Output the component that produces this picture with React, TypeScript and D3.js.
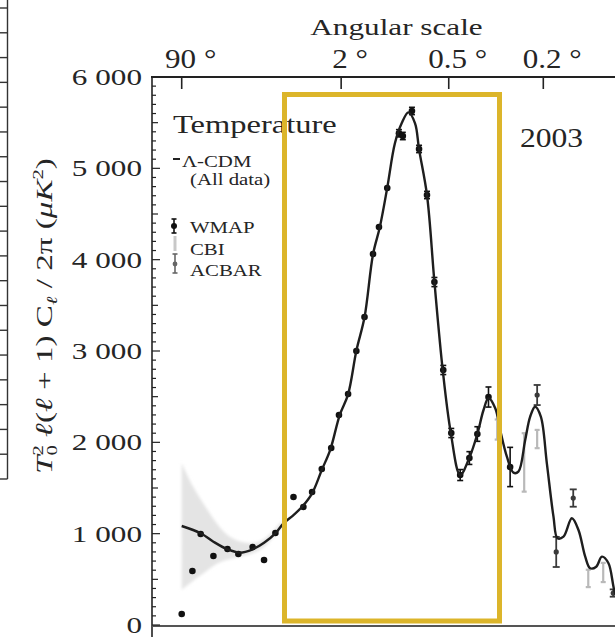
import React from 'react';
import * as d3 from 'd3';

// ---------- data ----------
const angleLabels = ['90 °', '2 °', '0.5 °', '0.2 °'];
const angleEll = [2, 90, 360, 900];

const yTickValues = [0, 1000, 2000, 3000, 4000, 5000, 6000];
const yTickLabels = ['0', '1 000', '2 000', '3 000', '4 000', '5 000', '6 000'];

// Lambda-CDM best-fit model curve (multipole l, power in microK^2)
const modelEll = [2, 4, 6, 9, 12.5, 17, 22, 28, 33, 40, 47, 56, 66, 76, 88, 100, 113, 127, 143, 157, 173, 191, 208, 226, 245, 257, 282, 307, 337, 368, 407, 448, 486, 517, 543, 580, 608, 648, 689, 721, 767, 802, 838, 881, 928, 982, 1016, 1068, 1144, 1207, 1274, 1325, 1389, 1451, 1526, 1605, 1700];
const modelD = [1084, 1004, 912, 829, 792, 829, 901, 1004, 1113, 1204, 1296, 1442, 1697, 1924, 2299, 2526, 3003, 3369, 4059, 4361, 4788, 5274, 5493, 5613, 5493, 5208, 4708, 3759, 2792, 2106, 1642, 1832, 2091, 2354, 2482, 2373, 2135, 1843, 1668, 1679, 2026, 2281, 2390, 2281, 1770, 1186, 949, 967, 1168, 1040, 748, 621, 638, 748, 676, 347, 200];

// cosmic-variance band at low l
const bandEll = [2, 3, 5, 7, 10, 16, 23, 32];
const bandLo = [383, 480, 600, 690, 730, 766, 850, 1080];
const bandHi = [1774, 1511, 1260, 1075, 935, 876, 930, 1140];

// WMAP points
const wmapEll = [2, 3, 4, 6, 9, 12, 17, 22, 28, 40, 48, 56, 66, 77, 87, 100, 113, 127, 143, 155, 173, 201, 211, 236, 257, 282, 307, 339, 370, 407, 448, 486, 543, 668];
const wmapD = [120, 591, 996, 755, 832, 777, 854, 712, 1007, 1401, 1292, 1456, 1708, 1938, 2299, 2529, 3000, 3372, 4062, 4358, 4785, 5384, 5354, 5628, 5212, 4708, 3755, 2792, 2102, 1642, 1828, 2091, 2496, 1730];
const wmapErr = [0, 0, 0, 0, 0, 0, 0, 0, 0, 0, 0, 0, 0, 0, 0, 0, 0, 0, 0, 0, 0, 40, 40, 40, 40, 40, 50, 50, 50, 60, 70, 80, 110, 215];

// ACBAR points
const acbarEll = [853, 1005, 1157, 1582];
const acbarD = [2518, 800, 1390, 350];
const acbarErr = [110, 165, 95, 40];

// CBI points
const cbiEll = [591, 760, 853, 1305, 1466];
const cbiD = [2140, 1780, 2036, 510, 575];
const cbiErr = [110, 320, 100, 95, 105];

// ---------- drawing ----------
const W = 615;
const H = 637;
const FONT = "'Liberation Serif', 'Times New Roman', 'DejaVu Serif', serif";
const INK = '#1e1e1e';

function SText(props: {
  x: number; y: number; sx?: number; size: number; anchor?: string;
  fill?: string; italic?: boolean; children: React.ReactNode;
}) {
  const { x, y, sx = 1.3, size, anchor = 'start', fill = '#252525', italic = false, children } = props;
  return (
    <g transform={`translate(${x},${y}) scale(${sx},1)`}>
      <text x={0} y={0} fontSize={size} textAnchor={anchor as any} fill={fill}
        fontFamily={FONT} fontStyle={italic ? 'italic' : 'normal'}>{children}</text>
    </g>
  );
}

function ErrBar(props: { cx: number; y0: number; y1: number; color: string; w?: number; cap?: number }) {
  const { cx, y0, y1, color, w = 1.6, cap = 3 } = props;
  return (
    <g stroke={color} strokeWidth={w}>
      <line x1={cx} x2={cx} y1={y0} y2={y1} />
      <line x1={cx - cap} x2={cx + cap} y1={y0} y2={y0} />
      <line x1={cx - cap} x2={cx + cap} y1={y1} y2={y1} />
    </g>
  );
}

export default function App() {
  const x = d3.scalePow().exponent(0.25).domain([2, 900]).range([181.7, 543.3]);
  const y = d3.scaleLinear().domain([0, 6000]).range([625, 77]);

  const line = d3.line<number>()
    .x(i => x(modelEll[i]))
    .y(i => y(modelD[i]))
    .curve(d3.curveCatmullRom.alpha(0.5));
  const modelPath = line(d3.range(modelEll.length)) || '';

  const area = d3.area<number>()
    .x(i => x(bandEll[i]))
    .y0(i => y(bandLo[i]))
    .y1(i => y(bandHi[i]))
    .curve(d3.curveBasis);
  const bandPath = area(d3.range(bandEll.length)) || '';

  const minorTicks = d3.range(0, 6001, 100);

  // partial frame of neighbouring panel on far left
  const edge = d3.scaleLinear().domain([0, 19]).range([479, 8]);
  const edgeTicks = d3.range(20);

  return (
    <svg width={W} height={H} viewBox={`0 0 ${W} ${H}`}
      style={{ position: 'fixed', left: 0, top: 0, display: 'block', background: '#fff' }}>
      <rect x={0} y={0} width={W} height={H} fill="#fff" />
      <defs>
        <clipPath id="plot">
          <rect x={152} y={77} width={W - 152} height={549} />
        </clipPath>
        <filter id="soft" x="-20%" y="-20%" width="140%" height="140%">
          <feGaussianBlur stdDeviation="1.5" />
        </filter>
      </defs>

      {/* left-edge leftover frame */}
      <g stroke="#333" strokeWidth={1.4}>
        <line x1={7.5} x2={7.5} y1={0} y2={479} />
        {edgeTicks.map(i => (
          <line key={i} x1={0} x2={7.5} y1={edge(i)} y2={edge(i)} />
        ))}
      </g>

      {/* data */}
      <g clipPath="url(#plot)">
        <path d={bandPath} fill="#e4e4e4" filter="url(#soft)" />

        {cbiEll.map((l, i) => (
          <ErrBar key={'c' + i} cx={x(l)} y0={y(cbiD[i] + cbiErr[i])} y1={y(cbiD[i] - cbiErr[i])}
            color="#b9b9b9" w={2.2} cap={2.5} />
        ))}
        {acbarEll.map((l, i) => (
          <g key={'a' + i}>
            <ErrBar cx={x(l)} y0={y(acbarD[i] + acbarErr[i])} y1={y(acbarD[i] - acbarErr[i])}
              color="#3a3a3a" w={1.8} cap={3.5} />
            <circle cx={x(l)} cy={y(acbarD[i])} r={2.6} fill="#3a3a3a" />
          </g>
        ))}
        {wmapEll.map((l, i) => (
          <g key={'w' + i}>
            {wmapErr[i] > 0 && (
              <ErrBar cx={x(l)} y0={y(wmapD[i] + wmapErr[i])} y1={y(wmapD[i] - wmapErr[i])}
                color="#111" w={1.6} cap={3} />
            )}
            <circle cx={x(l)} cy={y(wmapD[i])} r={3.3} fill="#111" />
          </g>
        ))}

        <path d={modelPath} fill="none" stroke={INK} strokeWidth={2.4} strokeLinejoin="round" />
      </g>

      {/* axes */}
      <g stroke="#222" fill="none">
        <line x1={151} x2={W} y1={77} y2={77} strokeWidth={2} />
        <line x1={152} x2={152} y1={76} y2={H} strokeWidth={1.6} />
        <line x1={152} x2={W} y1={626} y2={626} strokeWidth={2} stroke="#555" />
        {minorTicks.map(v => {
          const len = v % 1000 === 0 ? 8 : v % 500 === 0 ? 6 : 4;
          return <line key={v} x1={152} x2={152 + len} y1={y(v)} y2={y(v)} strokeWidth={1.2} />;
        })}
        {angleEll.map((l, i) => (
          <line key={i} x1={x(l)} x2={x(l)} y1={77} y2={89} strokeWidth={1.6} />
        ))}
      </g>

      {/* y tick labels */}
      {yTickValues.map((v, i) => (
        <SText key={v} x={142} y={y(v) + 8} size={24} sx={1.3} anchor="end">{yTickLabels[i]}</SText>
      ))}

      {/* top axis labels */}
      {angleEll.map((l, i) => (
        <SText key={i} x={x(l) + 9} y={68} size={27} sx={1.15} anchor="middle">{angleLabels[i]}</SText>
      ))}
      <SText x={396.5} y={35} size={24} sx={1.3} anchor="middle">Angular scale</SText>

      {/* y-axis title */}
      <g transform="translate(52,316) rotate(-90) scale(1.38,1)">
        <text x={0} y={0} fontSize={24} textAnchor="middle" fill="#252525" fontFamily={FONT}>
          <tspan fontStyle="italic">T</tspan>
          <tspan fontSize={15} dy={5}>0</tspan>
          <tspan fontSize={15} dx={-7.5} dy={-14}>2</tspan>
          <tspan dy={9}> </tspan>
          <tspan fontStyle="italic">ℓ</tspan>
          <tspan>(</tspan>
          <tspan fontStyle="italic">ℓ</tspan>
          <tspan> + 1) C</tspan>
          <tspan fontSize={15} dy={5} fontStyle="italic">ℓ</tspan>
          <tspan dy={-5}> / 2π (</tspan>
          <tspan fontStyle="italic">μK</tspan>
          <tspan fontSize={15} dy={-9}>2</tspan>
          <tspan dy={9}>)</tspan>
        </text>
      </g>

      {/* legend */}
      <SText x={173} y={133} size={25} sx={1.3}>Temperature</SText>
      <line x1={173} x2={180} y1={159} y2={159} stroke="#222" strokeWidth={2} />
      <SText x={182} y={167} size={16} sx={1.3}>Λ-CDM</SText>
      <SText x={190} y={185} size={16} sx={1.3}>(All data)</SText>

      <ErrBar cx={174} y0={219} y1={233} color="#111" w={1.6} cap={2.5} />
      <circle cx={174} cy={226} r={3} fill="#111" />
      <SText x={190} y={233} size={16} sx={1.3}>WMAP</SText>

      <line x1={175} x2={175} y1={236} y2={251} stroke="#c8c8c8" strokeWidth={3} />
      <SText x={190} y={255} size={16} sx={1.3}>CBI</SText>

      <ErrBar cx={175} y0={254} y1={273} color="#666" w={1.6} cap={2.5} />
      <circle cx={175} cy={264} r={2.4} fill="#666" />
      <SText x={190} y={276} size={16} sx={1.3}>ACBAR</SText>

      <SText x={520} y={147} size={27} sx={1.17}>2003</SText>

      {/* highlight box */}
      <rect x={284.5} y={94.5} width={215} height={526.5} fill="none" stroke="#DCB52A" strokeWidth={5} />
    </svg>
  );
}
